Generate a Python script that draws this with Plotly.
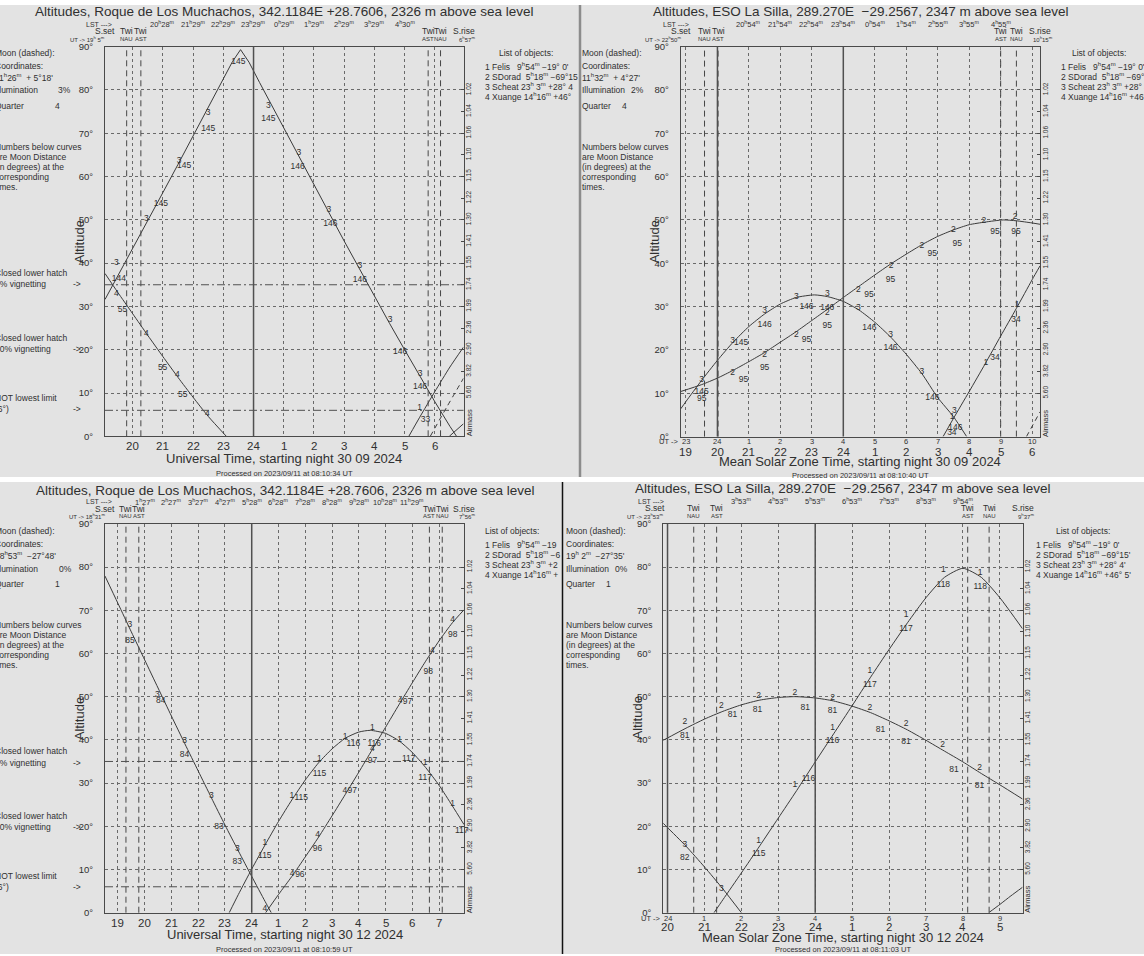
import plotly.graph_objects as go

W, H = 1144, 956
FONT = "Liberation Sans"
INK = "#303030"
CURVE = "#3a3a3a"
GRIDC = "#6a6a6a"
FRAME = "#4a4a4a"
PANEL_BG = "#e3e3e3"

# ------------------------------------------------------------------ texts
TITLES = ["Altitudes, Roque de Los Muchachos, 342.1184E +28.7606, 2326 m above sea level",
          "Altitudes, ESO La Silla, 289.270E  \u221229.2567, 2347 m above sea level",
          "Altitudes, Roque de Los Muchachos, 342.1184E +28.7606, 2326 m above sea level",
          "Altitudes, ESO La Silla, 289.270E  \u221229.2567, 2347 m above sea level"]
XTITLES = ["Universal Time, starting night 30 09 2024",
           "Mean Solar Zone Time, starting night 30 09 2024",
           "Universal Time, starting night 30 12 2024",
           "Mean Solar Zone Time, starting night 30 12 2024"]
PROCESSED = ["Processed on 2023/09/11 at 08:10:34 UT",
             "Processed on 2023/09/11 at 08:10:40 UT",
             "Processed on 2023/09/11 at 08:10:59 UT",
             "Processed on 2023/09/11 at 08:11:03 UT"]

# x axis: hours (continuous, >24 after midnight); sunset -> sunrise
X_RANGES = [(19.083, 30.95), (18.833, 30.25), (18.517, 31.933), (19.883, 29.617)]
UT_OFFSET = [0, 4, 0, 4]          # UT = axis time + offset
TICK_HOURS = [list(range(20, 31)), list(range(19, 31)), list(range(19, 32)), list(range(20, 30))]

LST_HOURS = [list(range(21, 30)), list(range(21, 30)), list(range(20, 31)), list(range(22, 29))]
LST_TEXT = [["20h28m", "21h29m", "22h29m", "23h29m", "0h29m", "1h29m", "2h29m", "3h29m", "4h30m"],
            ["20h54m", "21h54m", "22h54m", "23h54m", "0h54m", "1h54m", "2h55m", "3h55m", "4h55m"],
            ["1h27m", "2h27m", "3h27m", "4h27m", "5h28m", "6h28m", "7h28m", "8h28m", "9h28m",
             "10h28m", "11h29m"],
            ["3h53m", "4h53m", "5h53m", "6h53m", "7h53m", "8h53m", "9h54m"]]

SUNSET_TXT = ["19h 5m", "22h50m", "18h31m", "23h53m"]
SUNRISE_TXT = ["6h57m", "10h15m", "7h56m", "9h37m"]
TWI_EVENING = [(19.80, 20.27), (19.59, 20.02), (19.30, 19.78), (20.71, 21.33)]   # NAU, AST
TWI_MORNING = [(29.78, 30.19), (29.00, 29.50), (30.64, 31.12), (28.13, 28.71)]   # AST, NAU
MIDNIGHTS = [[24], [20, 24], [24], [20, 24]]
HATCH_ALTS = [[35, 6], [], [35, 6], []]

MOON_COORD = ["11h26m  + 5\u00b018'", "11h32m  + 4\u00b027'", "18h53m  \u221227\u00b048'", "19h 2m  \u221227\u00b035'"]
MOON_ILLUM = ["3%", "2%", "0%", "0%"]
MOON_QUARTER = ["4", "4", "1", "1"]
NOTE_LINES = ["Numbers below curves", "are Moon Distance", "(in degrees) at the", "corresponding", "times."]

OBJ_NUM = ["1", "2", "3", "4"]
OBJ_NAME = ["Felis ", "SDorad", "Scheat", "Xuange"]
OBJ_RA = [" 9h54m", " 5h18m", "23h 3m", "14h16m"]
OBJ_DEC = [["\u221219\u00b0 0'", "\u221269\u00b015", "+28\u00b0 4", "+46\u00b0"],
           ["\u221219\u00b0 0'", "\u221269\u00b015'", "+28\u00b0 4'", "+46\u00b0 5'"],
           ["\u221219", "\u22126", "+2", "+"],
           ["\u221219\u00b0 0'", "\u221269\u00b015'", "+28\u00b0 4'", "+46\u00b0 5'"]]

AIRMASS_ALT = [80, 75, 70, 65, 60, 55, 50, 45, 40, 35, 30, 25, 20, 15, 10]
AIRMASS_TXT = ["1.02", "1.04", "1.06", "1.10", "1.15", "1.22", "1.30", "1.41", "1.55", "1.74",
               "1.99", "2.36", "2.90", "3.82", "5.60"]

# ------------------------------------------------------------------ curves (time h, altitude deg)
# Panel 1 : Roque, 30 09 2024 (UT)
P1_SCHEAT_T = [19.083, 19.5, 20.0, 20.5, 21.0, 21.5, 22.0, 22.5, 23.0, 23.3, 23.57, 23.85, 24.2, 24.6,
               25.0, 25.5, 26.0, 26.5, 27.0, 27.5, 28.0, 28.5, 29.0, 29.5, 30.0, 30.5, 30.72]
P1_SCHEAT_A = [31.6, 36.9, 43.3, 49.7, 56.3, 62.8, 69.3, 75.9, 82.5, 86.5, 89.3, 86.4, 81.7, 76.4,
               71.2, 64.6, 58.1, 51.6, 45.1, 38.7, 32.4, 26.1, 20.0, 13.9, 8.0, 2.3, 0.0]
P1_XUANGE_T = [19.083, 19.5, 20.0, 20.5, 21.0, 21.5, 22.0, 22.5, 23.1]
P1_XUANGE_A = [37.6, 33.3, 28.3, 23.3, 18.4, 13.6, 9.0, 4.6, 0.0]
P1_XUANGE2_T = [30.48, 30.95]
P1_XUANGE2_A = [0.0, 2.9]
P1_FELIS_T = [29.14, 29.5, 30.0, 30.5, 30.95]
P1_FELIS_A = [0.0, 4.4, 10.3, 16.0, 20.6]
P1_MOON_T = [29.85, 30.4, 30.95]
P1_MOON_A = [0.0, 6.8, 13.4]

# Panel 2 : La Silla, 30 09 2024 (local mean solar time)
P2_SCHEAT_T = [18.833, 19.0, 19.5, 20.0, 20.5, 21.0, 21.5, 22.0, 22.5, 23.08, 23.5, 24.0, 24.5, 25.0,
               25.5, 26.0, 26.5, 27.0, 27.5, 27.92]
P2_SCHEAT_A = [6.4, 8.1, 13.0, 17.6, 21.8, 25.4, 28.3, 30.6, 32.1, 32.7, 32.3, 31.2, 29.2, 26.4,
               23.0, 19.0, 14.5, 9.0, 4.6, 0.0]
P2_SDORAD_T = [18.833, 19.5, 20.0, 20.5, 21.0, 21.5, 22.0, 22.5, 23.0, 23.5, 24.0, 24.5, 25.0, 25.5,
               26.0, 26.5, 27.0, 27.5, 28.0, 28.5, 29.08, 29.5, 30.0, 30.25]
P2_SDORAD_A = [10.4, 12.0, 13.5, 15.3, 17.3, 19.4, 21.8, 24.2, 26.8, 29.4, 32.1, 34.7, 37.3, 39.8,
               42.1, 44.3, 46.2, 47.7, 48.9, 49.5, 50.0, 49.8, 49.3, 49.0]
P2_FELIS_T = [27.17, 27.5, 28.0, 28.5, 29.0, 29.5, 30.0, 30.25]
P2_FELIS_A = [0.0, 4.2, 10.4, 16.7, 23.2, 29.6, 36.2, 39.4]
P2_MOON_T = [29.82, 30.25]
P2_MOON_A = [0.0, 5.7]

# Panel 3 : Roque, 30 12 2024 (UT)
P3_SCHEAT_T = [18.517, 19.0, 19.5, 20.0, 20.5, 21.0, 21.5, 22.0, 22.5, 23.0, 23.5, 24.0, 24.5, 24.73]
P3_SCHEAT_A = [77.9, 71.6, 65.0, 58.5, 52.0, 45.5, 39.1, 32.8, 26.5, 20.3, 14.3, 8.4, 2.6, 0.0]
P3_FELIS_T = [23.16, 23.5, 24.0, 24.5, 25.0, 25.5, 26.0, 26.5, 27.0, 27.5, 28.0, 28.43, 29.0, 29.5,
              30.0, 30.5, 31.0, 31.5, 31.933]
P3_FELIS_A = [0.0, 4.2, 10.1, 15.7, 21.1, 26.1, 30.7, 34.7, 37.9, 40.4, 41.8, 42.2, 41.5, 39.8,
              37.1, 33.6, 29.5, 24.7, 20.4]
P3_XUANGE_T = [24.52, 25.0, 25.5, 26.0, 26.5, 27.0, 27.5, 28.0, 28.5, 29.0, 29.5, 30.0, 30.5, 31.0,
               31.5, 31.933]
P3_XUANGE_A = [0.0, 4.2, 8.4, 12.9, 17.5, 22.4, 27.4, 32.5, 37.7, 42.9, 48.1, 53.2, 58.2, 62.9,
               67.1, 70.1]

# Panel 4 : La Silla, 30 12 2024 (local mean solar time)
P4_SDORAD_T = [19.883, 20.5, 21.0, 21.5, 22.0, 22.5, 23.0, 23.45, 24.0, 24.5, 25.0, 25.5, 26.0, 26.5,
               27.0, 27.5, 28.0, 28.5, 29.0, 29.617]
P4_SDORAD_A = [39.9, 42.7, 44.8, 46.6, 48.1, 49.2, 49.8, 50.0, 49.7, 49.0, 47.8, 46.3, 44.4, 42.3,
               39.9, 37.4, 34.9, 32.2, 29.6, 26.3]
P4_FELIS_T = [21.26, 21.5, 22.0, 22.5, 23.0, 23.5, 24.0, 24.5, 25.0, 25.5, 26.0, 26.5, 27.0, 27.5,
              28.0, 28.5, 29.0, 29.617]
P4_FELIS_A = [0.0, 3.0, 9.2, 15.5, 21.9, 28.3, 34.9, 41.4, 47.9, 54.5, 60.9, 67.1, 72.9, 77.6,
              79.7, 77.6, 72.9, 65.7]
P4_SCHEAT_T = [19.883, 20.0, 20.5, 21.0, 21.5, 22.0]
P4_SCHEAT_A = [20.7, 19.7, 15.4, 10.6, 5.5, 0.0]
P4_XUANGE_T = [28.7, 29.0, 29.3, 29.617]
P4_XUANGE_A = [0.0, 1.9, 3.9, 5.9]

# ------------------------------------------------------------------ labels on curves
P1_LBL_TXT = ["3", "145", "3", "145", "3", "145", "3", "145", "3", "144",
              "3", "145", "3", "146", "3", "146", "3", "146", "3", "146", "3", "146",
              "4", "55", "4", "55", "4", "55", "4", "1", "33"]
P1_LBL_T = [23.53, 23.50, 22.50, 22.50, 21.54, 21.70, 20.45, 20.93, 19.46, 19.54,
            24.49, 24.49, 25.50, 25.46, 26.49, 26.54, 27.52, 27.52, 28.52, 28.85, 29.51, 29.51,
            19.46, 19.66, 20.45, 20.99, 21.48, 21.66, 22.47, 29.50, 29.69]
P1_LBL_A = [90.2, 86.4, 74.6, 71.1, 63.7, 62.4, 50.3, 53.6, 40.0, 36.4,
            76.2, 73.2, 65.4, 62.2, 52.4, 49.0, 39.3, 36.2, 26.8, 19.5, 14.5, 11.4,
            33.0, 29.3, 23.7, 15.8, 14.1, 9.5, 5.2, 6.6, 3.9]

P2_LBL_TXT = ["3", "3", "3", "3", "3", "3", "3", "3", "3",
              "145", "145", "146", "146", "146", "146", "146", "146", "146",
              "2", "2", "2", "2", "2", "2", "2", "2", "2", "2",
              "95", "95", "95", "95", "95", "95", "95", "95", "95", "95", "95",
              "1", "1", "1", "34", "34", "34"]
P2_LBL_T = [19.50, 20.48, 21.50, 22.51, 23.49, 24.48, 25.50, 26.50, 27.53,
            19.50, 20.75, 21.50, 22.83, 23.49, 24.83, 25.50, 26.83, 27.56,
            20.48, 21.50, 22.51, 23.49, 24.48, 25.52, 26.50, 27.50, 28.47, 29.46,
            19.50, 20.83, 21.50, 22.83, 23.49, 24.82, 25.50, 26.83, 27.62, 28.82, 29.49,
            27.46, 28.53, 29.52, 27.45, 28.82, 29.49]
P2_LBL_A = [13.1, 22.2, 28.9, 32.3, 33.0, 29.7, 23.5, 15.0, 6.0,
            10.4, 21.6, 25.8, 30.0, 29.8, 25.0, 20.4, 8.9, 1.9,
            14.8, 18.9, 23.5, 28.5, 33.9, 39.3, 43.9, 47.8, 49.8, 50.8,
            8.7, 13.1, 15.8, 22.3, 25.6, 32.7, 36.2, 42.2, 44.5, 47.3, 47.3,
            4.6, 17.0, 30.4, 0.9, 18.1, 27.0]

P3_LBL_TXT = ["3", "3", "3", "3", "3", "85", "84", "84", "83", "83",
              "1", "1", "1", "1", "1", "1", "1", "1",
              "115", "115", "115", "116", "116", "117", "117", "117",
              "4", "4", "4", "4", "4", "4", "4", "4",
              "96", "96", "97", "97", "97", "98", "98"]
P3_LBL_T = [19.45, 20.47, 21.49, 22.49, 23.46, 19.45, 20.60, 21.49, 22.78, 23.46,
            24.49, 25.50, 26.53, 27.49, 28.51, 29.53, 30.48, 31.51,
            24.49, 25.85, 26.53, 27.80, 28.58, 29.87, 30.48, 31.85,
            24.49, 25.51, 26.46, 27.48, 28.51, 29.55, 30.75, 31.51,
            25.80, 26.46, 27.76, 28.51, 29.82, 30.60, 31.51]
P3_LBL_A = [66.6, 50.4, 39.7, 27.0, 14.7, 62.8, 49.1, 36.6, 19.9, 11.7,
            16.2, 27.0, 35.5, 40.7, 42.8, 40.1, 34.7, 25.1,
            13.1, 26.6, 32.2, 39.0, 39.0, 35.5, 31.2, 18.9,
            0.8, 8.9, 17.9, 28.2, 37.9, 49.0, 60.5, 67.8,
            8.7, 14.8, 28.2, 35.1, 48.8, 55.7, 64.3]

P4_LBL_TXT = ["2", "2", "2", "2", "2", "2", "2", "2", "2",
              "81", "81", "81", "81", "81", "81", "81", "81", "81",
              "1", "1", "1", "1", "1", "1", "1",
              "115", "116", "116", "117", "117", "118", "118",
              "3", "3", "82"]
P4_LBL_T = [20.47, 21.46, 22.47, 23.45, 24.47, 25.48, 26.46, 27.45, 28.45,
            20.47, 21.76, 22.44, 23.73, 24.47, 25.77, 26.46, 27.76, 28.45,
            22.47, 23.45, 24.47, 25.48, 26.46, 27.47, 28.47,
            22.47, 23.82, 24.47, 25.48, 26.46, 27.47, 28.47,
            20.47, 21.46, 20.47]
P4_LBL_A = [44.1, 47.9, 50.1, 50.8, 49.7, 47.4, 43.6, 38.9, 33.6,
            40.9, 45.7, 47.0, 47.4, 46.7, 42.4, 39.5, 33.0, 29.3,
            16.6, 29.5, 42.8, 56.0, 69.0, 79.4, 78.6,
            13.7, 31.0, 39.7, 52.8, 65.6, 75.9, 75.5,
            15.8, 5.6, 12.7]

# ------------------------------------------------------------------ layout geometry (pixels)
GEOM = [dict(x0=105.0, x1=463.5, y0=46.6, y1=436.3),
        dict(x0=680.7, x1=1040.0, y0=46.6, y1=436.6),
        dict(x0=105.0, x1=464.0, y0=523.8, y1=912.7),
        dict(x0=663.2, x1=1022.6, y0=523.8, y1=912.7)]
AXES = [("x", "y", "y2"), ("x2", "y3", "y4"), ("x3", "y5", "y6"), ("x4", "y7", "y8")]
TOPY = [(12, 24.5, 31, 38.5), (12, 24.5, 31, 38.5), (490, 502, 508.5, 516), (488.5, 501.5, 508, 515.5)]
BOTY = [(446, None, 458.5, 473), (442, 451.5, 462, 475), (922.5, None, 934, 949), (918, 927, 937.5, 949.5)]
LST_X = [84, 661, 84, 636]
LEFT_X = [-7, 580, -7, 564]
ILLUM_RIGHT = [73, 646, 74, 630]
QUARTER_X = [57, 624, 57, 608]
LEFT_TOP = [0, 0, 478, 478]
LIST_HEAD_X = [497, 1070, 483, 1054]
LIST_ITEM_X = [483, 1059, 483, 1034]
SSET_X = [None, None, None, 655.0]


def hm(s):
    return s.replace("h", "<sup>h</sup>").replace("m", "<sup>m</sup>")


def hour_label(h):
    h = int(round(h))
    return str(h if h <= 24 else h - 24)


def lkey(name):
    return ("xaxis" if name[0] == "x" else "yaxis") + name[1:]


ann = []


def add_text(text, x, y, size, xref="paper", yref="paper", xanchor="center",
             yanchor="middle", angle=0):
    xx = x / W if xref == "paper" else x
    yy = 1 - y / H if yref == "paper" else y
    ann.append(dict(text=text, x=xx, y=yy, xref=xref, yref=yref, xanchor=xanchor,
                    yanchor=yanchor, showarrow=False, textangle=angle,
                    font=dict(family=FONT, size=size, color=INK)))


fig = go.Figure()
layout = dict(width=W, height=H, margin=dict(l=0, r=0, t=0, b=0, pad=0),
              paper_bgcolor="white", plot_bgcolor=PANEL_BG, showlegend=False,
              template="none", font=dict(family=FONT, color=INK), hovermode=False)
shapes = []

# panel backgrounds and separators
for (a, b, c, d) in [(0, 5, 580, 477), (580, 5, W, 477), (0, 482, 562, 954), (562, 482, W, 954)]:
    shapes.append(dict(type="rect", xref="paper", yref="paper", x0=a / W, x1=c / W,
                       y0=1 - d / H, y1=1 - b / H, fillcolor=PANEL_BG, line=dict(width=0),
                       layer="below"))
shapes.append(dict(type="line", xref="paper", yref="paper", x0=580 / W, x1=580 / W,
                   y0=1 - 477 / H, y1=1 - 5 / H, line=dict(color="#8c8c8c", width=2.5), layer="above"))
shapes.append(dict(type="line", xref="paper", yref="paper", x0=562.5 / W, x1=562.5 / W,
                   y0=1 - 954 / H, y1=1 - 482 / H, line=dict(color="#111111", width=1.5), layer="above"))

CURVES = [(0, P1_SCHEAT_T, P1_SCHEAT_A, False, "linear"), (0, P1_XUANGE_T, P1_XUANGE_A, False, "spline"),
          (0, P1_XUANGE2_T, P1_XUANGE2_A, False, "linear"), (0, P1_FELIS_T, P1_FELIS_A, False, "spline"),
          (0, P1_MOON_T, P1_MOON_A, True, "spline"),
          (1, P2_SCHEAT_T, P2_SCHEAT_A, False, "spline"), (1, P2_SDORAD_T, P2_SDORAD_A, False, "spline"),
          (1, P2_FELIS_T, P2_FELIS_A, False, "spline"), (1, P2_MOON_T, P2_MOON_A, True, "linear"),
          (2, P3_SCHEAT_T, P3_SCHEAT_A, False, "spline"), (2, P3_FELIS_T, P3_FELIS_A, False, "spline"),
          (2, P3_XUANGE_T, P3_XUANGE_A, False, "spline"),
          (3, P4_SDORAD_T, P4_SDORAD_A, False, "spline"), (3, P4_FELIS_T, P4_FELIS_A, False, "spline"),
          (3, P4_SCHEAT_T, P4_SCHEAT_A, False, "spline"), (3, P4_XUANGE_T, P4_XUANGE_A, False, "spline")]
LABELS = [(P1_LBL_TXT, P1_LBL_T, P1_LBL_A), (P2_LBL_TXT, P2_LBL_T, P2_LBL_A),
          (P3_LBL_TXT, P3_LBL_T, P3_LBL_A), (P4_LBL_TXT, P4_LBL_T, P4_LBL_A)]

for i in range(4):
    xn, yn, y2n = AXES[i]
    g = GEOM[i]
    lo, hi = X_RANGES[i]
    cx = (g["x0"] + g["x1"]) / 2
    xd = [g["x0"] / W, g["x1"] / W]
    yd = [1 - g["y1"] / H, 1 - g["y0"] / H]
    layout[lkey(xn)] = dict(domain=xd, range=[lo, hi], anchor=yn, tickvals=TICK_HOURS[i],
                            showticklabels=False, ticks="", showgrid=True, gridcolor=GRIDC,
                            griddash="dot", gridwidth=1, zeroline=False, showline=True,
                            mirror=True, linecolor=FRAME, linewidth=1, fixedrange=True)
    layout[lkey(yn)] = dict(domain=yd, range=[0, 90], anchor=xn, tickvals=list(range(0, 91, 10)),
                            ticktext=[f"{v}\u00b0" for v in range(0, 91, 10)],
                            tickfont=dict(size=9.5, color=INK, family=FONT), ticks="",
                            ticklabelstandoff=9, showgrid=True, gridcolor=GRIDC, griddash="dot",
                            gridwidth=1, zeroline=False, showline=True, mirror=True,
                            linecolor=FRAME, linewidth=1, fixedrange=True)
    layout[lkey(y2n)] = dict(overlaying=yn, side="right", anchor=xn, range=[0, 90],
                             tickvals=AIRMASS_ALT, ticktext=AIRMASS_TXT, tickangle=-90,
                             tickfont=dict(size=6.5, color=INK, family=FONT), ticks="inside",
                             ticklen=3, tickcolor=FRAME, showgrid=False, zeroline=False,
                             showline=False, fixedrange=True)
    # invisible anchor trace for the airmass axis
    fig.add_trace(go.Scatter(x=[lo], y=[0], xaxis=xn, yaxis=y2n, mode="markers",
                             marker=dict(opacity=0), hoverinfo="skip"))

    # vertical reference lines
    nau_e, ast_e = TWI_EVENING[i]
    ast_m, nau_m = TWI_MORNING[i]
    for t in (nau_e, ast_e, ast_m, nau_m):
        shapes.append(dict(type="line", xref=xn, yref=f"{yn} domain", x0=t, x1=t, y0=0, y1=1,
                           line=dict(color="#464646", width=1, dash="6px,4px"), layer="above"))
    for t in MIDNIGHTS[i]:
        shapes.append(dict(type="line", xref=xn, yref=f"{yn} domain", x0=t, x1=t, y0=0, y1=1,
                           line=dict(color="#505050", width=1.5), layer="above"))
    for a in HATCH_ALTS[i]:
        shapes.append(dict(type="line", xref=f"{xn} domain", yref=yn, x0=0, x1=1, y0=a, y1=a,
                           line=dict(color="#505050", width=1, dash="8px,3px,2px,3px"), layer="above"))

    # header
    ty = TOPY[i]
    add_text(TITLES[i], cx, ty[0], 13.5)
    add_text("LST ---&gt;", LST_X[i], ty[1], 7, xanchor="left")
    for h, s in zip(LST_HOURS[i], LST_TEXT[i]):
        add_text(hm(s), h, ty[1], 7.5, xref=xn)
    if SSET_X[i] is None:
        add_text("S.set", lo, ty[2], 8.5, xref=xn)
    else:
        add_text("S.set", SSET_X[i], ty[2], 8.5)
    for t, s in [(nau_e, "Twi"), (ast_e, "Twi"), (ast_m, "Twi"), (nau_m, "Twi"), (hi, "S.rise")]:
        add_text(s, t, ty[2], 8.5, xref=xn)
    add_text("UT -&gt; " + hm(SUNSET_TXT[i]), g["x0"] + 2, ty[3], 6, xanchor="right")
    for t, s in [(nau_e, "NAU"), (ast_e, "AST"), (ast_m, "AST"), (nau_m, "NAU")]:
        add_text(s, t, ty[3], 6, xref=xn)
    add_text(hm(SUNRISE_TXT[i]), g["x1"] + 3, ty[3], 6)

    # bottom axis labels
    by = BOTY[i]
    if UT_OFFSET[i] == 0:
        for h in TICK_HOURS[i]:
            add_text(hour_label(h), h, by[0], 11.5, xref=xn)
    else:
        add_text("UT -&gt;", g["x0"] - 1, by[0], 7.5, xanchor="right")
        for h in TICK_HOURS[i]:
            add_text(hour_label(h + UT_OFFSET[i]), h, by[0], 7.5, xref=xn)
            add_text(hour_label(h), h, by[1], 11.5, xref=xn)
    add_text(XTITLES[i], cx, by[2], 13)
    add_text(PROCESSED[i], cx, by[3], 7.5)
    add_text("Altitude", g["x0"] - 26, (g["y0"] + g["y1"]) / 2, 13, angle=-90)
    add_text("Airmass", g["x1"] + 5.5, 3.0, 7.5, yref=yn, angle=-90)

    # left info block
    x0 = LEFT_X[i]
    t0 = LEFT_TOP[i]
    add_text("Moon (dashed):", x0, t0 + 53, 8.5, xanchor="left")
    add_text("Coordinates:", x0, t0 + 66, 8.5, xanchor="left")
    add_text(hm(MOON_COORD[i]), x0, t0 + 77, 8.5, xanchor="left")
    add_text("Illumination", x0, t0 + 90.5, 8.5, xanchor="left")
    add_text(MOON_ILLUM[i], ILLUM_RIGHT[i], t0 + 90.5, 8.5, xanchor="right")
    add_text("Quarter", x0, t0 + 105.5, 8.5, xanchor="left")
    add_text(MOON_QUARTER[i], QUARTER_X[i], t0 + 105.5, 8.5)
    for k, s in enumerate(NOTE_LINES):
        add_text(s, x0, t0 + 147 + 10 * k, 8.5, xanchor="left")
    if HATCH_ALTS[i]:
        for (yy, s) in [(273, "Closed lower hatch"), (284.5, "0% vignetting"),
                        (338, "Closed lower hatch"), (349, "50% vignetting"),
                        (398, "NOT lowest limit"), (409, "(6\u00b0)")]:
            add_text(s, x0, t0 + yy, 8.5, xanchor="left")
        for yy in (284.5, 349, 409):
            add_text("-&gt;", 71, t0 + yy, 8.5, xanchor="left")

    # list of objects
    add_text("List of objects:", LIST_HEAD_X[i], t0 + 53, 8.5, xanchor="left")
    for k in range(4):
        s = f"{OBJ_NUM[k]} {OBJ_NAME[k]} {hm(OBJ_RA[k])} {OBJ_DEC[i][k]}"
        add_text(s, LIST_ITEM_X[i], t0 + 66 + 10 * k, 8.5, xanchor="left")

for (p, t, a, dashed, shape) in CURVES:
    xn, yn, _ = AXES[p]
    line = dict(color=CURVE, width=1, shape=shape)
    if shape == "spline":
        line["smoothing"] = 0.6
    if dashed:
        line["dash"] = "5px,4px"
    fig.add_trace(go.Scatter(x=t, y=a, xaxis=xn, yaxis=yn, mode="lines", line=line,
                             hoverinfo="skip"))

for p, (txt, t, a) in enumerate(LABELS):
    xn, yn, _ = AXES[p]
    fig.add_trace(go.Scatter(x=t, y=a, xaxis=xn, yaxis=yn, mode="text", text=txt,
                             textfont=dict(size=8.5, color=INK, family=FONT),
                             cliponaxis=False, hoverinfo="skip"))

layout["shapes"] = shapes
layout["annotations"] = ann
fig.update_layout(**layout)
fig.write_html("out.html", config={"displayModeBar": False},
               post_script="document.body.style.margin='0px';document.body.style.overflow='hidden';")
